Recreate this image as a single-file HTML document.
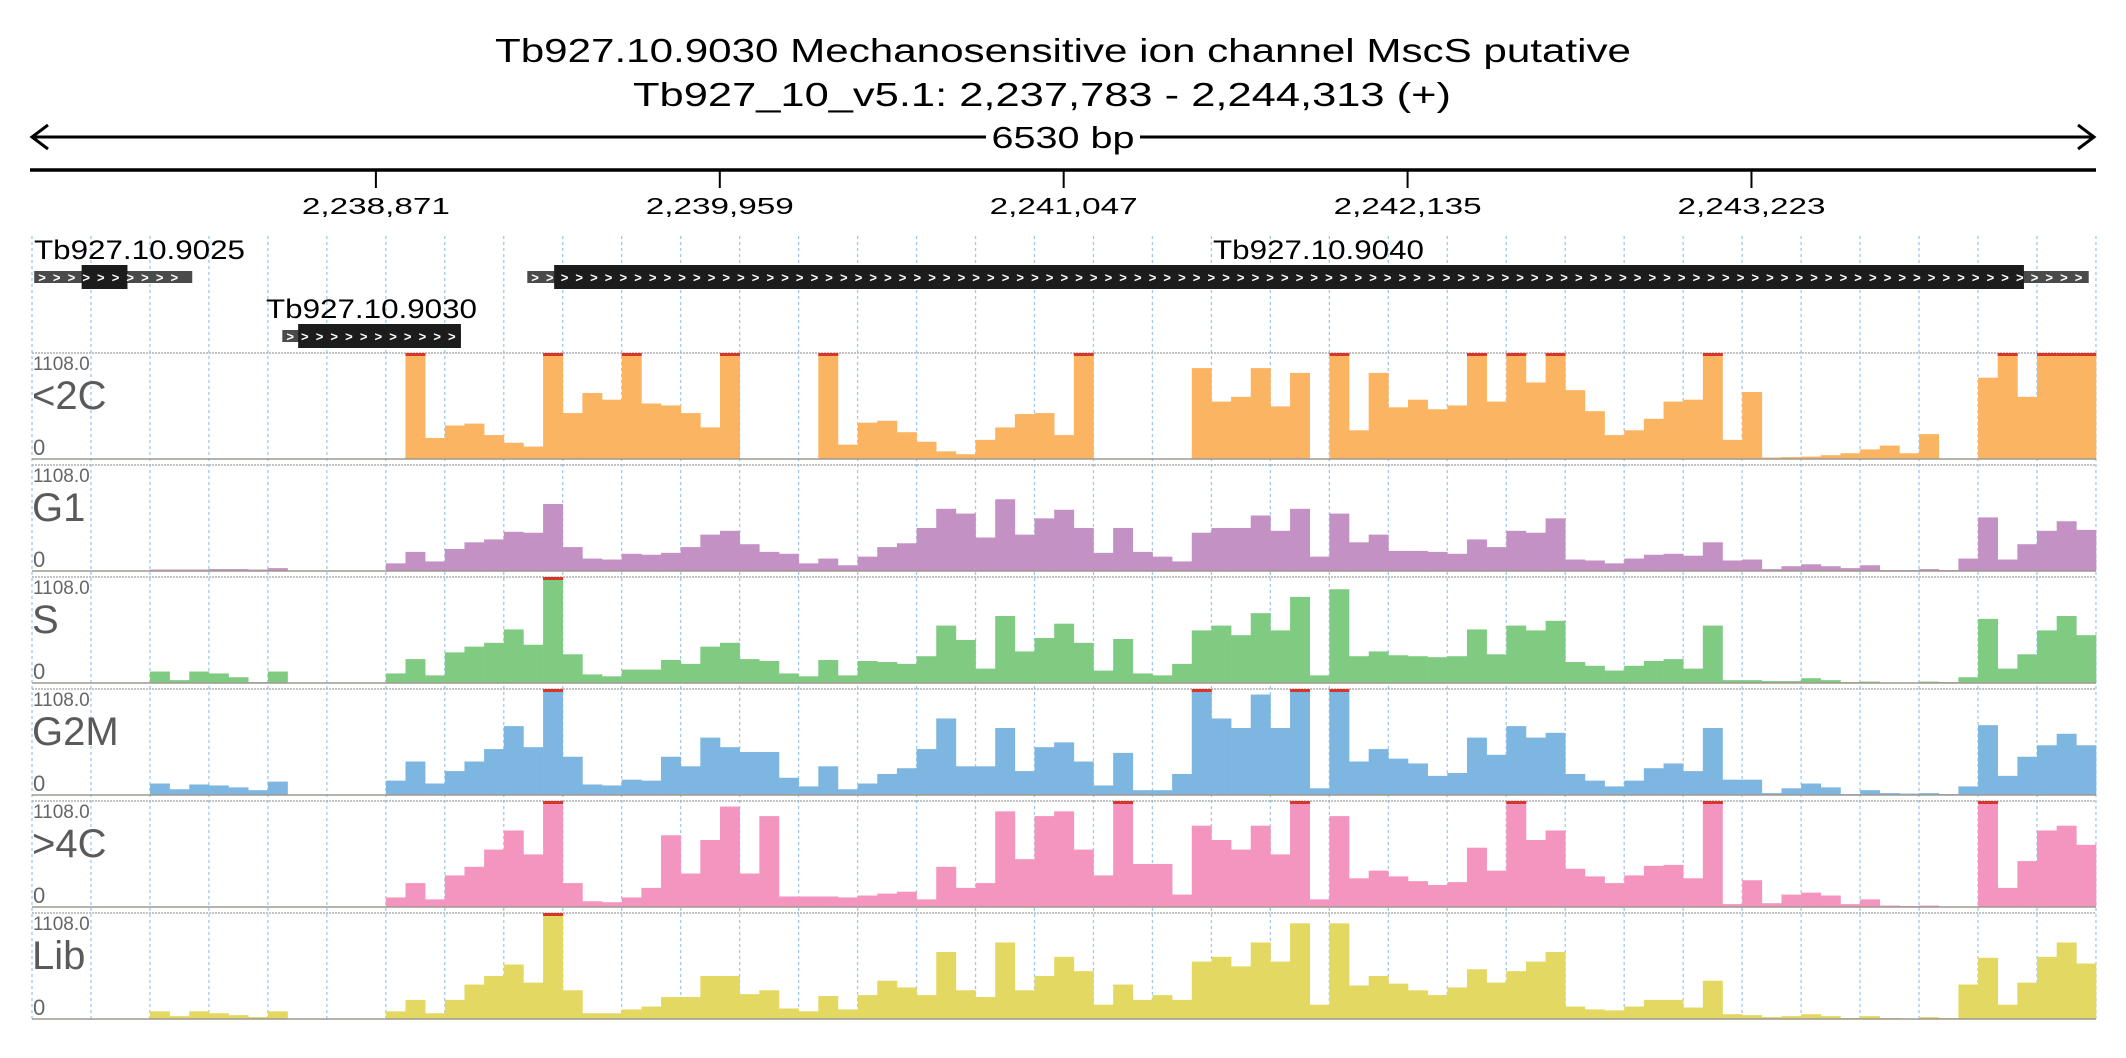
<!DOCTYPE html>
<html><head><meta charset="utf-8"><style>
html,body{margin:0;padding:0;background:#fff;}
svg{display:block;font-family:"Liberation Sans",sans-serif;}
</style></head><body>
<svg id="chart" width="2126" height="1058" viewBox="0 0 2126 1058" xmlns="http://www.w3.org/2000/svg">
<g id="header">
<text x="1063" y="62" text-anchor="middle" font-size="33" textLength="1136" lengthAdjust="spacingAndGlyphs">Tb927.10.9030  Mechanosensitive ion channel MscS  putative</text>
<text x="1042" y="106" text-anchor="middle" font-size="33" textLength="818" lengthAdjust="spacingAndGlyphs">Tb927_10_v5.1: 2,237,783 - 2,244,313 (+)</text>
<g>
<line x1="32" y1="137" x2="2094" y2="137" stroke="#000" stroke-width="3"/>
<polyline points="48,125 32,137 48,149" fill="none" stroke="#000" stroke-width="3"/>
<polyline points="2078,125 2094,137 2078,149" fill="none" stroke="#000" stroke-width="3"/>
<rect x="986" y="118" width="154" height="36" fill="#fff"/>
<text x="1063" y="148" text-anchor="middle" font-size="31" textLength="143" lengthAdjust="spacingAndGlyphs">6530 bp</text>
</g>
<line x1="30" y1="170" x2="2096" y2="170" stroke="#000" stroke-width="3.5"/>
</g>
<g id="grid"></g>
<g id="ticks"></g>
<g id="genes"></g>
<g id="tracks"></g>
</svg>
<script>
const regionStart = 2237783;
const regionEnd = 2244313;
const tickLabels = ["2,238,871","2,239,959","2,241,047","2,242,135","2,243,223"];
const tickPositions = [2238871, 2239959, 2241047, 2242135, 2243223];
const trackNames = ["<2C","G1","S","G2M",">4C","Lib"];
const trackColors = ["#fbb461","#c391c4","#80cb82","#7db6e1","#f495bf","#e3d862"];
const yMax = 1108;
const geneNames = ["Tb927.10.9025","Tb927.10.9030","Tb927.10.9040"];
const geneStarts = [2237790, 2238575, 2239350];
const geneCdsStarts = [2237940, 2238625, 2239435];
const geneCdsEnds = [2238085, 2239140, 2244085];
const geneEnds = [2238290, 2239140, 2244290];
const vals_2C = [0,0,0,0,0,0,0,0,0,0,0,0,0,0,0,0,0,0,
0,1108,220, 350,370,250, 170,130,1108, 480,690,620, 1108,580,560, 480,330,1108,
0,0,0, 0,1108,150, 380,400,280, 180,80,50, 200,330,470, 480,250,1108,
0,0,0, 0,0,950, 600,650,950, 550,900,0, 1108,300,900, 540,620,520,
560,1108,600, 1108,800,1108, 720,500,250, 300,420,600, 620,1108,200, 700,15,20,
25,40,60, 100,140,60, 260,0,0, 850,1108,650, 1108,1108,1108];
const vals_G1 = [0,0,0,0,0,0, 15,15,15, 20,20,15, 30,0,0, 0,0,0,
80,200,100, 230,300,330, 410,400,700, 250,130,120, 180,170,190, 250,380,420,
280,200,180, 80,130,60, 150,250,290, 450,650,600, 350,750,380, 550,640,450,
190,450,200, 150,100,400, 450,450,580, 420,650,150, 600,300,380, 210,210,200,
180,330,250, 420,400,550, 120,110,80, 130,170,180, 160,300,110, 120,20,50,
70,50,30, 60,10,10, 20,10,130, 560,120,280, 420,520,430];
const vals_S = [0,0,0,0,0,0, 120,30,120, 100,60,10, 120,0,0, 0,0,0,
100,250,80, 320,380,420, 560,400,1108, 300,90,70, 140,140,240, 200,380,420,
250,230,100, 70,240,80, 230,220,200, 280,600,450, 150,700,330, 470,620,420,
130,460,100, 80,200,550, 600,500,730, 550,900,80, 980,280,330, 290,280,270,
280,560,300, 600,550,650, 220,180,130, 180,230,250, 150,600,30, 30,20,20,
50,30,10, 15,5,5, 15,10,60, 670,150,300, 550,700,500];
const vals_G2M = [0,0,0,0,0,0, 120,60,110, 100,80,50, 140,0,0, 0,0,0,
150,350,120, 250,350,480, 720,500,1108, 400,110,100, 160,150,400, 300,600,500,
450,450,180, 90,300,60, 120,220,280, 480,800,300, 300,700,250, 500,550,350,
100,440,50, 50,220,1108, 800,700,1050, 700,1108,70, 1108,350,480, 380,330,200,
230,600,420, 720,600,650, 220,150,90, 150,280,330, 250,700,160, 160,20,70,
120,80,10, 50,20,15, 20,10,90, 730,200,400, 520,640,520];
const vals_4C = [0,0,0,0,0,0,0,0,0,0,0,0,0,0,0,0,0,0,
100,250,80, 330,420,600, 800,550,1108, 250,60,50, 100,200,750, 350,700,1050,
350,950,110, 110,110,100, 120,140,160, 80,420,200, 250,1000,500, 950,1000,600,
330,1108,450, 450,130,850, 700,600,850, 550,1108,80, 950,300,380, 320,270,230,
260,620,380, 1108,700,800, 400,320,250, 330,430,440, 300,1108,30, 280,40,130,
150,120,30, 80,15,10, 15,5,0, 1108,200,480, 800,850,650];
const vals_Lib = [0,0,0,0,0,0, 80,30,80, 60,40,20, 80,0,0, 0,0,0,
80,200,60, 200,360,450, 570,380,1108, 300,60,60, 100,130,230, 230,450,450,
260,300,110, 80,240,100, 250,400,330, 250,700,300, 230,800,300, 450,650,500,
150,360,200, 250,200,600, 650,550,800, 600,1000,150, 1000,350,450, 370,300,250,
330,520,380, 500,600,700, 130,100,90, 130,200,200, 120,400,50, 40,20,30,
50,30,10, 30,10,5, 20,10,360, 640,150,380, 650,800,580];
const trackValues = [vals_2C, vals_G1, vals_S, vals_G2M, vals_4C, vals_Lib];

const NS = "http://www.w3.org/2000/svg";
const X0 = 32, X1 = 2096;
function xScale(bp){ return X0 + (bp - regionStart) / (regionEnd - regionStart) * (X1 - X0); }
const TRACK_TOP0 = 353, TRACK_PITCH = 112, TRACK_H = 106;
function yScale(v, t){ const base = TRACK_TOP0 + t*TRACK_PITCH + TRACK_H; return base - Math.min(v, yMax)/yMax*TRACK_H; }
function mk(tag, attrs, parent){ const e = document.createElementNS(NS, tag); for (const k in attrs) e.setAttribute(k, attrs[k]); parent.appendChild(e); return e; }

// grid
const grid = document.getElementById('grid');
for (let k = 0; k <= 35; k++) {
  const x = X0 + k * 58.97;
  const l = mk('line', {x1:x, y1:236, x2:x, y2:1019, stroke:'#9cc9ef', 'stroke-width':1.3, 'stroke-dasharray':'3,3'}, grid);
  
  
}
// ticks
const ticks = document.getElementById('ticks');
tickPositions.forEach((p, i) => {
  const x = xScale(p);
  const l = mk('line', {x1:x, y1:170, x2:x, y2:188, stroke:'#000', 'stroke-width':2}, ticks);
  
  
  const t = mk('text', {x:x, y:214, 'text-anchor':'middle', 'font-size':23, textLength:148, lengthAdjust:'spacingAndGlyphs'}, ticks);
  t.textContent = tickLabels[i];
  
  
});
// genes
const genes = document.getElementById('genes');
const geneRows = [0, 1, 0];
geneNames.forEach((name, i) => {
  const rowY = geneRows[i] ? 336 : 277;
  const g = mk('g', {}, genes);
  
  
  const xs = xScale(geneStarts[i]), xe = xScale(geneEnds[i]);
  const cs = xScale(geneCdsStarts[i]), ce = xScale(geneCdsEnds[i]);
  mk('rect', {x:xs, y:rowY-6, width:xe-xs, height:12, fill:'#4a4a4a'}, g);
  mk('rect', {x:cs, y:rowY-12, width:ce-cs, height:24, fill:'#1c1c1c'}, g);
  for (let x = xs + 4; x < Math.max(xe, ce) - 8; x += 14.7) {
    const c = mk('text', {x:x, y:rowY+5, 'font-size':13, 'font-weight':'bold', fill:'#fff'}, g);
    c.textContent = '>';
  }
  const lx = i === 2 ? 1213 : (i === 1 ? 266 : 34);
  const ly = geneRows[i] ? 318 : 259;
  const t = mk('text', {x:lx, y:ly, 'font-size':27, textLength:211, lengthAdjust:'spacingAndGlyphs'}, g);
  t.textContent = name;
  
  
});
// tracks
const tracks = document.getElementById('tracks');
const binBp = (regionEnd - regionStart) / vals_2C.length;
trackValues.forEach((vals, t) => {
  const top = TRACK_TOP0 + t*TRACK_PITCH, base = top + TRACK_H;
  const g = mk('g', {}, tracks);
  
  
  mk('line', {x1:X0, y1:top, x2:X1, y2:top, stroke:'#b0b0b0', 'stroke-width':1.5, 'stroke-dasharray':'2,1'}, g);
  vals.forEach((v, i) => {
    if (v <= 0) return;
    const x = xScale(regionStart + i*binBp), x2 = xScale(regionStart + (i+1)*binBp);
    const y = yScale(v, t);
    const r = mk('rect', {x:x, y:y, width:x2-x+0.3, height:base-y, fill:trackColors[t]}, g);
    
    
    if (v >= yMax) mk('rect', {x:x, y:top, width:x2-x+0.3, height:3, fill:'#d9362b'}, g);
  });
  mk('line', {x1:X0, y1:base, x2:X1, y2:base, stroke:'#a09890', 'stroke-width':1.5}, g);
  const mx = mk('text', {x:33, y:top+17, 'font-size':19, fill:'#666'}, g);
  mx.textContent = yMax.toFixed(1);
  
  
  const nm = mk('text', {x:32, y:top+56, 'font-size':40, fill:'#5a5a5a'}, g);
  nm.textContent = trackNames[t];
  
  
  const z = mk('text', {x:33, y:base-4, 'font-size':22, fill:'#666'}, g);
  z.textContent = '0';
  
  
});
</script>
</body></html>
